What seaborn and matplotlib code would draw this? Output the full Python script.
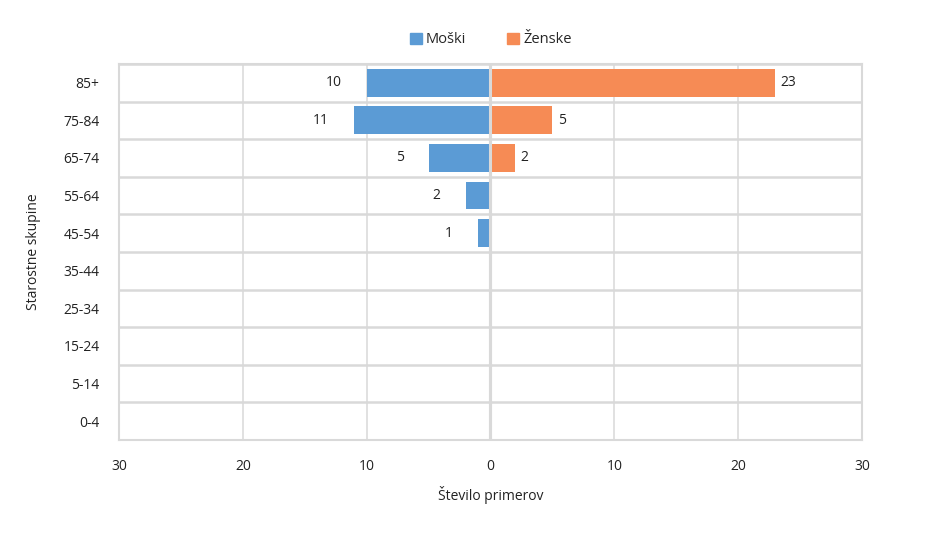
import numpy as np
import pandas as pd
import matplotlib
matplotlib.use("Agg")
import matplotlib.pyplot as plt
import seaborn as sns
from matplotlib.patches import Patch

# ============================================================
#  DATA
# ============================================================

age_groups = ["85+", "75-84", "65-74", "55-64", "45-54",
              "35-44", "25-34", "15-24", "5-14", "0-4"]
male   = [10, 11, 5, 2, 1, 0, 0, 0, 0, 0]
female = [23, 5, 2, 0, 0, 0, 0, 0, 0, 0]
x_ticks  = [-30, -20, -10, 0, 10, 20, 30]
x_labels = ["30", "20", "10", "0", "10", "20", "30"]

blue   = "#5B9BD5"
orange = "#F68B55"
grid_c = "#D9D9D9"

sns.set_theme(style="white")
plt.rcParams['font.family'] = ['Open Sans', 'DejaVu Sans']

df = pd.DataFrame({"group": age_groups, "male": [-v for v in male], "female": female})

fig = plt.figure(figsize=(9.4, 5.39), dpi=100)
ax = fig.add_axes([0.1266, 0.1837, 0.7904, 0.6976])

sns.barplot(data=df, x="male", y="group", order=age_groups, color=blue,
            width=0.74, saturation=1, linewidth=0, ax=ax, orient="h")
sns.barplot(data=df, x="female", y="group", order=age_groups, color=orange,
            width=0.74, saturation=1, linewidth=0, ax=ax, orient="h")

ax.set_xlim(-30, 30)
ax.set_ylim(9.5, -0.5)

# grid: vertical at ticks, horizontal between categories
ax.set_xticks(x_ticks)
ax.set_xticklabels(x_labels)
ax.set_yticks(np.arange(-0.5, 10, 1), minor=True)
for xv in x_ticks[1:-1]:
    ax.axvline(xv, color=grid_c, lw=2.2 if xv == 0 else 1.1, zorder=0.5)
ax.axvline(0, color=grid_c, lw=2.2, zorder=3)
ax.grid(which="minor", axis="y", color=grid_c, lw=1.8, zorder=0.5)
ax.set_axisbelow(True)
for side in ["left", "right", "top", "bottom"]:
    ax.spines[side].set_visible(True)
    ax.spines[side].set_color(grid_c)
    ax.spines[side].set_linewidth(1.5)

ax.tick_params(axis="both", which="both", length=0, labelsize=10, colors="#222222")
ax.tick_params(axis="x", pad=14)
ax.tick_params(axis="y", pad=14)

# value labels
for i, (m, f) in enumerate(zip(male, female)):
    if m > 0:
        ax.annotate(str(m), xy=(-m, i), xytext=(-18, 0), textcoords="offset points",
                    ha="right", va="center", fontsize=10, color="#222222")
    if f > 0:
        ax.annotate(str(f), xy=(f, i), xytext=(4, 0), textcoords="offset points",
                    ha="left", va="center", fontsize=10, color="#222222")

ax.set_xlabel("Število primerov", fontsize=10, color="#222222", labelpad=8)
ax.set_ylabel("Starostne skupine", fontsize=10, color="#222222")
ax.yaxis.set_label_coords(-0.105, 0.5)

handles = [Patch(color=blue, label="Moški"), Patch(color=orange, label="Ženske")]
fig.legend(handles=handles, loc="center", bbox_to_anchor=(0.522, 0.926), ncol=2,
           frameon=False, fontsize=10.5, handlelength=0.8, handleheight=0.8,
           handletextpad=0.3, columnspacing=2.8)

fig.savefig("out.png", dpi=100)
